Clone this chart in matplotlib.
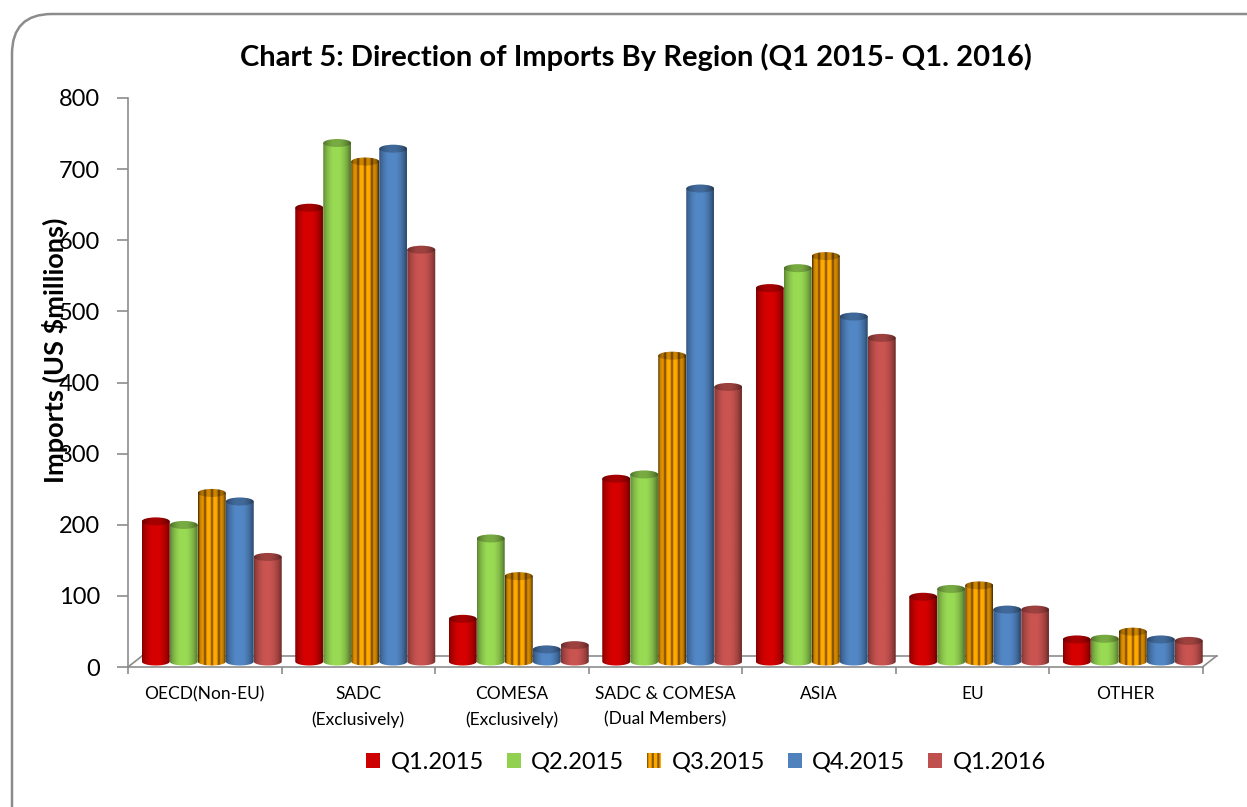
import numpy as np
import matplotlib
matplotlib.use("Agg")
import matplotlib.pyplot as plt
from matplotlib.patches import Patch, Ellipse, PathPatch, FancyBboxPatch
from matplotlib.path import Path

categories = ["OECD(Non-EU)", "SADC\n(Exclusively)", "COMESA\n(Exclusively)",
              "SADC & COMESA\n(Dual Members)", "ASIA", "EU", "OTHER"]
series_names = ["Q1.2015", "Q2.2015", "Q3.2015", "Q4.2015", "Q1.2016"]
q1_2015 = [197, 638, 60, 257, 525, 91, 31]
q2_2015 = [192, 729, 173, 263, 553, 102, 32]
q3_2015 = [237, 703, 120, 430, 570, 107, 42]
q4_2015 = [225, 721, 17, 665, 485, 73, 31]
q1_2016 = [147, 579, 23, 386, 455, 73, 29]
series_values = [q1_2015, q2_2015, q3_2015, q4_2015, q1_2016]
colors = ["#CC0000", "#92D050", "#FFA500", "#4F81BD", "#C0504D"]
yticks = [0, 100, 200, 300, 400, 500, 600, 700, 800]

plt.rcParams['font.family'] = ['Lato', 'DejaVu Sans']

W, H = 1247, 807
fig = plt.figure(figsize=(W / 100, H / 100), dpi=100)

# rounded outer border
border = FancyBboxPatch((12 / W, -40 / H), (1300 - 12) / W, (807 - 14 + 40) / H,
                        boxstyle="round,pad=0,rounding_size=0.032",
                        transform=fig.transFigure, fill=False,
                        edgecolor="#8C8C8C", linewidth=1.8, mutation_aspect=W / H)
fig.patches.append(border)

left_px, right_px, top_px, bot_px = 128, 1202.5, 98, 667
ax = fig.add_axes([left_px / W, (H - bot_px) / H, (right_px - left_px) / W, (bot_px - top_px) / H])
ax.set_xlim(0, len(categories))
ax.set_ylim(0, 800)

px_per_unit = (bot_px - top_px) / 800.0
px_per_cat = (right_px - left_px) / len(categories)
depth_dx = 14 / px_per_cat
depth_dy = 11 / px_per_unit
base = depth_dy / 2
bar_w = 28 / px_per_cat
ell_h = 8 / px_per_unit
start_off = (1 - bar_w * 5) / 2 + depth_dx / 2

grey = "#8C8C8C"
for s in ["top", "right"]:
    ax.spines[s].set_visible(False)
ax.spines["left"].set_color(grey)
ax.spines["bottom"].set_color(grey)
ax.spines["left"].set_linewidth(1.2)
ax.spines["bottom"].set_linewidth(1.2)
ax.set_yticks(yticks)
ax.set_yticklabels([str(v) for v in yticks], fontsize=17)
ax.tick_params(axis="y", length=8, color=grey, pad=12, width=1.2)
ax.set_xticks(range(len(categories) + 1))
ax.set_xticklabels([])
ax.tick_params(axis="x", length=5, color=grey, width=1.2)

# floor
ax.plot([depth_dx, len(categories) + depth_dx], [depth_dy, depth_dy], color=grey, lw=1.2, clip_on=False)
ax.plot([0, depth_dx], [0, depth_dy], color=grey, lw=1.2, clip_on=False)
ax.plot([len(categories), len(categories) + depth_dx], [0, depth_dy], color=grey, lw=1.2, clip_on=False)

N = 80
t = np.linspace(0, 1, N)
shade = 0.62 + 0.45 * np.sin(np.pi * np.clip(t * 1.05, 0, 1)) ** 0.7
shade = np.clip(shade, 0, 1.05)


def grad_image(color, striped, dark=1.0):
    c = np.array(matplotlib.colors.to_rgb(color))
    img = np.outer(shade * dark, c)
    if striped:
        brown = np.array(matplotlib.colors.to_rgb("#7A4A00"))
        stripe = (np.cos(2 * np.pi * (t * 4 + 0.0)) + 1) / 2
        stripe = stripe ** 3
        img = img * (1 - stripe[:, None]) + np.outer(shade * dark, brown) * stripe[:, None]
    return np.clip(img, 0, 1)[None, :, :]


theta = np.linspace(0, np.pi, 40)
for si, (vals, col) in enumerate(zip(series_values, colors)):
    striped = si == 2
    for ci, v in enumerate(vals):
        xl = ci + start_off + si * bar_w
        xr = xl + bar_w
        xc = (xl + xr) / 2
        top = base + v
        arc_x = xc + (bar_w / 2) * np.cos(theta)
        arc_y = base - (ell_h / 2) * np.sin(theta)
        verts = [(xl, top), (xr, top)] + list(zip(arc_x, arc_y)) + [(xl, top)]
        codes = [Path.MOVETO] + [Path.LINETO] * (len(verts) - 2) + [Path.CLOSEPOLY]
        body = PathPatch(Path(verts, codes), transform=ax.transData)
        im = ax.imshow(grad_image(col, striped), extent=(xl, xr, base - ell_h, top),
                       aspect="auto", interpolation="bilinear", zorder=2 + ci * 0.01)
        im.set_clip_path(body)
        ell = Ellipse((xc, top), bar_w, ell_h, transform=ax.transData)
        im2 = ax.imshow(grad_image(col, striped, dark=0.78), extent=(xl, xr, top - ell_h, top + ell_h),
                        aspect="auto", interpolation="bilinear", zorder=2.005 + ci * 0.01)
        im2.set_clip_path(ell)

ax.set_xlim(0, len(categories))
ax.set_ylim(0, 800)

label_y = 1 - (686 - top_px) / (bot_px - top_px)
for ci, name in enumerate(categories):
    ax.text(ci + 0.5, label_y, name, transform=ax.get_xaxis_transform(),
            ha="center", va="top", fontsize=12.5, linespacing=1.7)

fig.text(636 / W, 1 - 57 / H, "Chart 5: Direction of Imports By Region (Q1 2015- Q1. 2016)",
         ha="center", va="center", fontsize=21, fontweight="bold")
fig.text(55 / W, 1 - 350 / H, "Imports (US $millions)", rotation=90, ha="center", va="center",
         fontsize=19.5, fontweight="bold")

plt.rcParams['hatch.linewidth'] = 1.6
handles = []
for si, (name, col) in enumerate(zip(series_names, colors)):
    if si == 2:
        handles.append(Patch(facecolor=col, edgecolor="#8A5A00", hatch="|||", linewidth=0, label=name))
    else:
        handles.append(Patch(facecolor=col, edgecolor="none", label=name))
fig.legend(handles=handles, loc="center", bbox_to_anchor=(706 / W, 1 - 762 / H), ncol=5,
           frameon=False, fontsize=17, handlelength=0.6, handleheight=0.6,
           handletextpad=0.45, columnspacing=0.95)

fig.savefig("out.png", dpi=100)
